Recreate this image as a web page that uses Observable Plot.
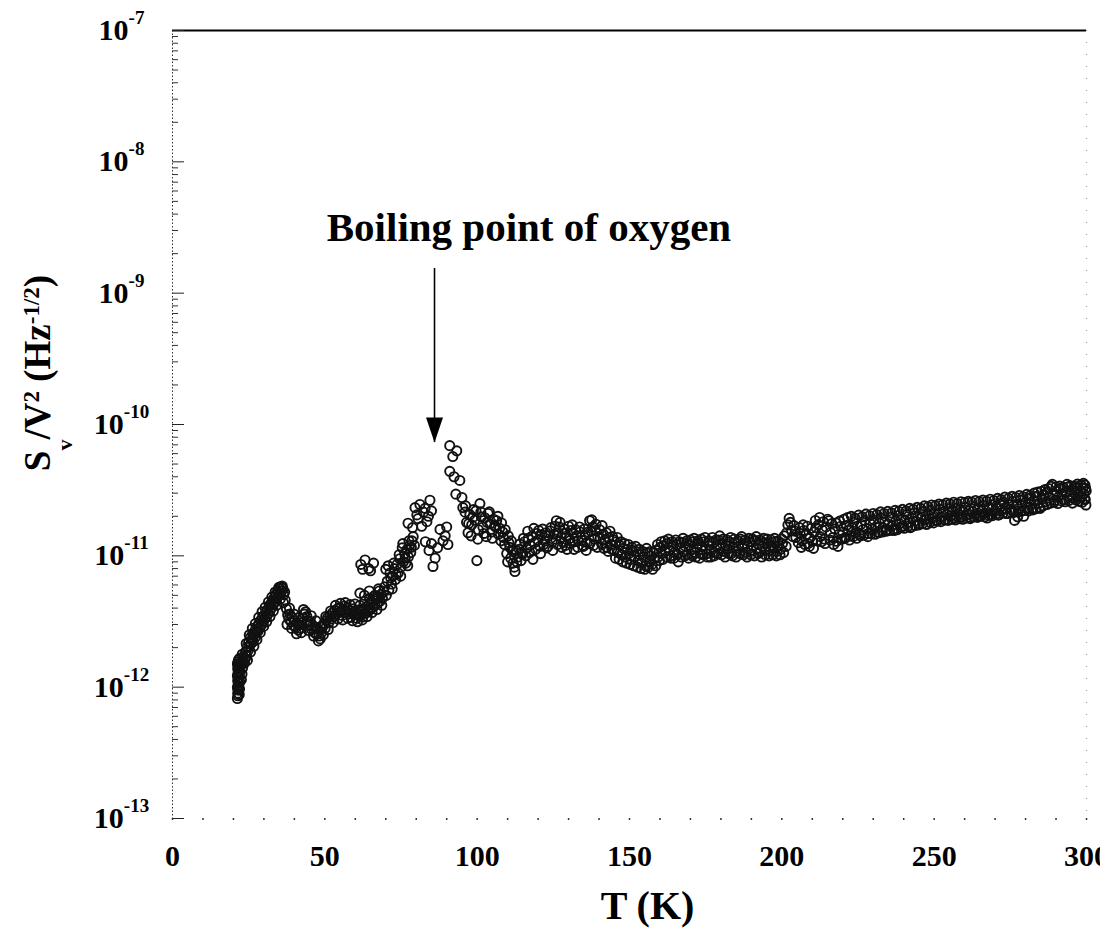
<!DOCTYPE html>
<html>
<head>
<meta charset="utf-8">
<script src="https://cdn.jsdelivr.net/npm/d3@7"></script>
<script src="https://cdn.jsdelivr.net/npm/@observablehq/plot@0.6"></script>
<style>
  body { margin: 0; background: #fff; }
  #chart svg { display: block; }
</style>
</head>
<body>
<div id="chart"></div>
<script>
// Normalised noise S_v/V^2 versus temperature T.
// Noise values are listed in units of 1e-12 Hz^-1/2; temperatures in kelvin.
const PICO = 1e-12;

// start of the sweep near 21 K
const rampStart = [
  [21.3,0.82],[21.5,0.86],[21.4,0.90],[21.6,0.95],[21.3,0.99],[21.5,1.03],[21.7,1.07],[21.4,1.12],
  [21.6,1.17],[21.3,1.22],[21.5,1.27],[21.7,1.33],[21.4,1.38],[21.6,1.44],[21.3,1.50],[21.5,1.56],
  [21.7,1.62],[21.9,0.88],[22.0,0.97],[22.1,1.09],[21.9,1.19],[22.2,1.31],[22.0,1.42],[22.3,1.53],
  [22.1,1.66],[22.6,1.14],[22.8,1.26],[23.0,1.40],[22.7,1.50],[23.1,1.58],[23.3,1.71],[22.9,1.78],
  [23.6,1.52],[23.8,1.64]
];

// steep rise up to the first maximum near 35 K
const rampRise = [
  [24.0,1.86],[24.3,1.72],[24.5,2.02],[24.8,1.90],[25.0,2.20],[25.3,2.05],[25.5,2.38],[25.8,2.15],
  [26.0,2.30],[26.3,2.55],[26.5,2.22],[26.8,2.48],[27.1,2.70],[27.3,2.42],[27.6,2.62],[27.9,2.92],
  [28.1,2.66],[28.4,3.05],[28.7,2.84],[28.9,3.22],[29.2,2.98],[29.5,3.38],[29.8,3.12],[30.0,3.50],
  [30.3,3.30],[30.6,3.70],[30.9,3.45],[31.1,3.88],[31.4,3.62],[31.7,4.10],[32.0,3.82],[32.2,4.30],
  [32.5,4.02],[32.8,4.55],[33.1,4.25],[33.4,4.80],[33.6,4.48],[33.9,5.05],[34.2,4.70],[34.5,5.35],
  [34.8,4.95],[35.0,5.62],[35.3,5.20],[35.6,5.80],[35.9,5.42],[36.2,5.65],[36.5,5.05],[36.8,5.30],
  [37.0,4.60],
  [24.2,2.15],[24.6,1.60],[25.2,2.50],[25.6,1.85],[26.2,2.80],[26.7,2.05],[27.2,3.05],[27.7,2.30],
  [28.3,3.40],[28.8,2.60],[29.4,3.75],[29.9,2.90],[30.4,4.05],[30.9,3.15],[31.5,4.45],[32.0,3.45],
  [32.6,4.85],[33.1,3.80],[33.7,5.30],[34.2,4.20],[34.9,5.75],[35.4,4.70],[36.0,5.90],[36.4,4.40]
];

// dip after 37 K and the slow climb to 70 K
const valley = [
  [37.4,3.95],[37.8,3.55],[38.2,3.30],[38.5,3.60],[38.9,3.15],[39.3,3.40],[39.7,2.95],[40.1,3.20],
  [40.5,2.85],[40.9,3.05],[41.3,2.72],[41.7,2.98],[42.1,2.80],[42.5,3.10],[42.9,3.35],[43.3,3.60],
  [43.7,3.75],[44.1,3.45],[44.5,3.20],[44.9,2.95],[45.3,3.15],[45.7,2.75],[46.1,2.95],[46.5,2.62],
  [46.9,2.85],[47.3,2.52],[47.7,2.78],[48.1,2.45],[48.5,2.33],[48.9,2.60],[49.3,2.88],[49.7,3.05],
  [50.1,2.80],[50.5,3.20],[50.9,3.38],[51.3,3.10],[51.7,3.50],[52.1,3.30],[52.5,3.68],[52.9,3.45],
  [53.3,3.85],[53.7,3.58],[54.1,3.95],[54.5,3.70],[54.9,4.05],[55.3,3.78],[55.7,3.52],[56.1,3.90],
  [56.5,4.15],[56.9,3.72],[57.3,3.98],[57.7,3.60],[58.1,3.85],[58.5,3.40],[58.9,3.68],[59.3,3.95],
  [59.7,3.55],[60.1,3.80],[60.5,3.35],[60.9,3.62],[61.3,3.88],[61.7,3.50],[62.1,3.75],[62.5,3.42],
  [62.9,3.95],[63.3,3.65],[63.7,4.10],[64.1,3.78],[64.5,4.25],[64.9,3.90],[65.3,4.40],[65.7,4.05],
  [66.1,4.55],[66.5,4.20],[66.9,4.70],[67.3,4.35],[67.7,4.90],[68.1,4.50],[68.5,5.10],[68.9,4.75],
  [69.3,5.35],
  [37.6,3.00],[38.4,4.00],[39.1,2.80],[39.9,3.60],[40.7,2.55],[41.5,3.40],[42.3,2.60],[43.0,3.90],
  [43.9,3.10],[44.7,2.70],[45.5,3.50],[46.3,2.45],[47.1,3.20],[47.9,2.25],[48.7,2.90],[49.5,2.50],
  [50.3,3.45],[51.1,2.75],[51.9,3.80],[52.7,3.10],[53.5,4.20],[54.3,3.30],[55.1,4.35],[55.9,3.25],
  [56.7,4.40],[57.5,3.35],[58.3,4.25],[59.1,3.20],[59.9,4.30],[60.7,3.15],[61.5,4.20],[62.3,3.25],
  [63.1,4.50],[63.9,3.45],[64.7,4.75],[65.5,3.70],[66.3,4.95],[67.1,3.90],[67.9,5.40],[68.7,4.20]
];

// scattered readings above the band around 60-68 K
const upperScatter = [
  [61.8,8.6],[63.2,9.3],[64.4,8.0],[65.0,7.7],[62.4,7.9],[66.0,8.8],
  [61.5,5.2],[63.0,5.0],[64.6,5.4],[66.4,5.0],[67.6,5.6]
];

// approach to and peak at the boiling point of oxygen
const nearBoiling = [
  [69.6,5.8],[70.0,7.9],[70.5,6.4],[71.0,5.5],[71.4,7.4],[71.9,6.1],[72.3,7.0],[72.8,8.0],
  [73.2,6.6],[73.7,8.6],[74.1,7.4],[74.6,9.5],[75.0,8.2],[75.4,11.5],[75.8,9.0],[76.2,10.4],
  [76.6,8.8],[77.0,11.2],[77.4,9.8],[77.8,12.0],[78.2,10.6],[78.6,13.0],
  [70.2,5.0],[70.8,8.4],[71.6,6.8],[72.1,5.6],[72.6,8.8],[73.4,7.2],[74.4,10.2],[74.9,7.0],
  [75.6,12.4],[76.4,9.6],[77.2,8.4],[77.6,13.0],[78.4,11.6],[79.0,14.0],[79.4,12.0],
  [77.3,17.7],[78.8,16.4],[79.6,23.3],[80.2,20.5],[80.6,19.2],[81.2,24.6],[81.8,16.8],[82.4,21.5],
  [82.9,23.0],[83.5,18.2],[84.0,20.0],[84.5,26.5],[85.0,22.0],
  [83.0,12.8],[84.2,11.0],[85.0,12.4],[85.5,8.3],[86.2,9.6],
  [87.0,11.5],[87.8,15.9],[88.8,13.0],[89.5,14.2],[90.0,16.6],[90.4,12.2],
  [91.0,69],[93.3,63],[92.0,57],[91.0,44],[92.4,40],[94.3,37.5],[93.0,29.5],[95.0,27.8],[95.3,23.3]
];

// decay after the peak, 96-140 K
const postPeak = [
  [96.0,21.5],[96.5,18.0],[97.0,15.0],[97.6,20.6],[98.2,17.2],[98.8,22.5],[99.2,18.7],[99.9,9.2],
  [100.4,15.8],[100.9,25.0],[101.4,19.8],[101.9,16.5],[102.5,19.5],[103.0,14.0],[103.6,21.0],[104.2,17.5],
  [104.8,15.2],[105.4,19.0],[106.0,16.6],[106.4,18.5],[107.0,14.6],[107.4,16.2],[108.0,17.8],[108.6,13.8],
  [109.2,15.8],[109.7,10.4],[110.2,14.2],[110.7,11.6],[111.2,13.0],[111.8,8.8],[112.4,7.6],[112.9,11.0],
  [113.4,9.8],[114.0,12.3],[114.6,10.6],[115.0,10.4],[115.6,12.8],[116.2,11.4],[116.8,13.6],[117.4,12.0],
  [118.0,14.1],[118.3,9.4],[118.8,12.6],[119.4,14.8],[120.0,13.2],[120.6,11.8],[121.2,14.5],[121.5,16.0],
  [122.2,13.0],[122.8,11.5],[123.4,14.2],[124.0,15.5],[124.6,12.8],[125.2,14.6],[125.8,13.4],[126.0,18.5],
  [126.6,15.0],[127.0,16.6],[127.6,13.8],[128.2,12.6],[128.8,14.9],[129.3,14.1],[129.5,11.2],[130.2,13.5],
  [130.8,15.6],[131.4,14.9],[132.0,12.8],[132.6,14.2],[133.2,13.0],[133.8,15.2],[134.3,13.1],[134.9,11.8],
  [135.5,14.4],[136.1,12.6],[136.9,18.5],[137.4,15.4],[137.9,16.6],[138.4,13.4],[139.0,17.4],[139.6,14.0],
  [96.2,24.0],[97.2,17.6],[98.0,14.2],[98.6,19.6],[99.6,22.0],[100.2,13.4],[101.2,21.6],[102.2,14.8],
  [103.2,18.0],[104.0,21.6],[105.0,13.6],[105.8,17.0],[106.8,20.0],[107.8,13.0],[108.4,15.2],[109.0,12.2],
  [110.0,9.0],[110.4,12.6],[111.0,9.6],[111.6,10.8],[112.2,8.2],[113.0,9.0],[113.8,11.2],[114.4,9.2],
  [115.2,13.6],[116.0,10.0],[116.6,15.4],[117.2,10.6],[118.6,16.2],[119.2,11.2],[120.2,15.6],[120.8,10.4],
  [121.8,12.2],[122.6,15.0],[123.2,11.8],[124.2,16.4],[124.8,11.0],[125.6,16.8],[126.4,12.2],[127.2,18.0],
  [127.8,11.6],[128.6,16.0],[129.0,12.0],[130.0,16.8],[130.6,12.4],[131.2,17.2],[131.8,11.2],[132.4,15.8],
  [133.0,11.6],[133.6,16.6],[134.6,12.0],[135.2,16.0],[135.8,11.0],[136.4,15.2],[137.0,12.4],[137.6,18.8],
  [138.2,12.0],[138.8,15.6],[139.4,11.6]
];

// near-flat region, 140-205 K
const plateau = [
  [140.2,15.8],[140.8,12.4],[141.4,14.6],[142.0,13.2],[142.6,11.6],[143.2,13.8],[143.8,12.2],[144.4,14.0],
  [145.0,11.0],[145.6,12.8],[146.2,10.6],[146.8,12.0],[147.4,10.2],[148.0,11.4],[148.6,9.8],[149.2,11.2],
  [149.8,10.4],[150.4,9.4],[151.0,11.0],[151.6,9.9],[152.2,10.8],[152.8,9.2],[153.4,10.2],[154.0,8.8],
  [154.6,9.8],[155.2,8.4],[155.8,10.5],[156.4,9.0],[157.0,10.0],[157.6,7.9],[158.2,9.5],[158.8,11.0],
  [159.4,9.8],[160.0,11.6],[160.6,10.4],[161.2,12.0],[161.8,10.8],[162.4,12.4],[163.0,11.0],[163.6,9.6],
  [164.2,11.8],[164.8,10.6],[165.4,12.2],[166.0,9.0],[166.6,11.4],[167.2,12.6],[167.8,10.8],[168.4,11.8],
  [169.0,10.2],[169.6,12.0],[170.2,11.0],[170.8,12.8],[171.4,10.6],[172.0,11.6],[172.6,12.4],[173.2,10.4],
  [173.8,11.8],[174.4,12.8],[175.0,11.2],[175.6,9.8],[176.2,12.0],[176.8,11.0],[177.4,12.6],[178.0,10.6],
  [178.6,11.8],[179.2,13.2],[179.8,11.4],[180.4,12.4],[181.0,10.8],[181.6,12.0],[182.2,11.2],[182.8,12.8],
  [183.4,10.4],[184.0,11.6],[184.6,12.6],[185.2,10.8],[185.8,11.8],[186.4,13.4],[187.0,11.6],[187.6,12.4],
  [188.2,10.6],[188.8,11.8],[189.4,12.8],[190.0,11.0],[190.6,12.0],[191.2,13.0],[191.8,11.4],[192.4,12.2],
  [193.0,10.8],[193.6,11.8],[194.2,12.6],[194.8,11.2],[195.4,12.4],[196.0,11.0],[196.6,12.0],[197.2,11.4],
  [197.8,12.8],[198.4,10.8],[199.0,12.0],[199.6,11.2],[200.2,12.4],[200.8,14.2],[201.4,11.8],[202.0,17.2],
  [202.4,19.3],[203.2,15.6],[204.0,17.0],[204.6,13.8],
  [140.4,13.6],[141.0,17.0],[141.6,11.4],[142.4,15.0],[143.0,10.8],[143.6,15.4],[144.2,11.2],[144.8,13.2],
  [145.4,9.6],[146.0,13.8],[146.6,9.4],[147.2,12.8],[147.8,9.0],[148.4,12.4],[149.0,8.8],[149.6,12.2],
  [150.2,8.6],[150.8,11.6],[151.4,8.4],[152.0,11.8],[152.6,8.2],[153.2,11.2],[153.8,8.0],[154.4,10.8],
  [155.0,7.9],[155.6,11.4],[156.2,8.2],[156.8,10.8],[157.4,8.6],[158.0,10.6],[158.6,8.4],[159.2,12.2],
  [159.8,9.2],[160.4,12.8],[161.0,9.4],[161.6,13.0],[162.2,9.8],[162.8,13.4],[163.4,10.0],[164.0,12.8],
  [164.6,9.6],[165.2,13.2],[165.8,10.2],[166.4,12.8],[167.0,9.8],[167.6,13.6],[168.2,10.0],[168.8,13.0],
  [169.4,9.6],[170.0,13.2],[170.6,10.0],[171.2,13.6],[171.8,9.8],[172.4,13.0],[173.0,9.6],[173.6,13.4],
  [174.2,10.2],[174.8,13.8],[175.4,10.4],[176.0,13.0],[176.6,9.8],[177.2,13.8],[177.8,10.0],[178.4,13.2],
  [179.0,10.4],[179.6,14.2],[180.2,10.2],[180.8,13.4],[181.4,9.8],[182.0,13.2],[182.6,10.4],[183.2,13.8],
  [183.8,10.0],[184.4,13.4],[185.0,9.8],[185.6,13.0],[186.2,10.4],[186.8,14.0],[187.4,10.2],[188.0,13.2],
  [188.6,9.8],[189.2,13.6],[189.8,10.2],[190.4,13.4],[191.0,10.0],[191.6,14.0],[192.2,10.4],[192.8,13.2],
  [193.4,9.8],[194.0,13.6],[194.6,10.2],[195.2,13.4],[195.8,10.0],[196.4,13.2],[197.0,10.2],[197.6,13.6],
  [198.2,10.0],[198.8,13.0],[199.4,10.2],[200.0,13.4],[200.6,10.6],[201.6,15.0],[202.8,18.0],[203.6,14.0],
  [204.4,15.4]
];

// gradual rise towards room temperature, 205-300 K
const warmRise = [
  [205.4,12.6],[206.0,14.8],[206.6,13.0],[207.2,15.6],[208.0,14.5],[208.6,12.4],[209.2,13.6],[210.0,12.9],
  [210.6,15.2],[211.2,16.4],[212.0,17.3],[212.6,14.0],[213.2,15.8],[214.0,13.4],[214.5,16.6],[215.5,18.5],
  [216.0,15.0],[216.8,13.8],[217.4,16.0],[218.0,12.9],[218.8,14.6],[219.4,16.8],[220.0,15.2],[220.6,13.6],
  [221.2,17.0],[221.8,15.6],[222.4,14.2],[223.0,16.4],[223.6,18.0],[224.2,15.0],[224.8,16.8],[225.4,14.6],
  [226.0,17.4],[226.6,15.8],[227.2,18.6],[227.8,16.2],[228.4,14.8],[229.0,17.6],[229.6,16.0],[230.2,18.8],
  [230.8,16.6],[231.4,15.2],[232.0,17.8],[232.6,19.4],[233.2,16.4],[233.8,18.2],[234.4,15.8],[235.0,17.4],
  [235.6,19.6],[236.2,17.0],[236.8,15.6],[237.4,18.4],[238.0,20.2],[238.6,17.6],[239.2,19.0],[239.8,16.8],
  [240.4,18.6],[241.0,20.6],[241.6,18.0],[242.2,16.4],[242.8,19.4],[243.4,21.2],[244.0,18.4],[244.6,20.0],
  [245.2,17.6],[245.8,19.8],[246.4,21.8],[247.0,19.0],[247.6,17.4],[248.2,20.4],[248.8,22.2],[249.4,19.6],
  [250.0,21.0],[250.6,18.6],[251.2,20.8],[251.8,22.6],[252.4,19.8],[253.0,21.6],[253.6,18.8],[254.2,20.6],
  [254.8,22.8],[255.4,20.2],[256.0,21.8],[256.6,19.4],[257.2,23.0],[257.8,20.8],[258.4,22.4],[259.0,19.8],
  [259.6,21.6],[260.2,23.4],[260.8,20.6],[261.4,22.0],[262.0,19.6],[262.6,21.8],[263.2,23.6],[263.8,20.8],
  [264.4,22.6],[265.0,20.0],[265.6,22.0],[266.2,24.0],[266.8,21.2],[267.4,19.4],[268.0,22.8],[268.6,20.6],
  [269.2,24.4],[269.8,21.8],[270.4,23.2],[271.0,20.4],[271.6,24.8],[272.2,22.2],[272.8,25.6],[273.4,23.0],
  [274.0,21.0],[274.6,24.6],[275.2,22.6],[275.8,26.0],[276.4,18.6],[277.0,24.2],[277.6,22.0],[278.2,26.6],
  [278.8,24.0],[279.4,20.0],[280.0,25.4],[280.6,23.2],[281.2,27.4],[281.8,24.8],[282.4,22.4],[283.0,26.2],
  [283.6,28.4],[284.2,25.0],[284.8,23.0],[285.4,27.0],[286.0,29.2],[286.6,25.8],[287.2,30.6],[287.8,27.6],
  [288.4,33.8],[289.0,28.8],[289.6,26.4],[290.2,31.0],[290.8,28.0],[291.4,32.4],[292.0,29.4],[292.6,26.8],
  [293.2,30.8],[293.8,33.4],[294.4,28.6],[295.0,31.6],[295.6,27.6],[296.2,30.0],[296.8,32.8],[297.2,29.0],
  [297.6,26.0],[298.0,31.4],[298.4,28.2],[298.8,33.0],[299.2,29.6],[299.6,26.8],[299.9,31.2],[299.5,34.5],
  [299.8,24.4],
  [205.8,16.4],[206.4,11.6],[207.0,17.2],[207.6,12.2],[208.4,16.8],[209.0,11.8],[209.6,16.2],[210.4,11.4],
  [211.0,18.6],[211.6,13.0],[212.4,19.6],[213.0,12.8],[213.6,18.2],[214.2,12.4],[215.0,19.0],[215.8,13.2],
  [216.4,17.6],[217.0,12.2],[217.8,17.8],[218.4,11.8],[219.0,18.4],[219.8,13.4],[220.4,19.0],[221.0,13.8],
  [221.6,19.6],[222.2,13.2],[222.8,20.0],[223.4,14.0],[224.0,19.4],[224.6,13.6],[225.2,20.4],[225.8,14.2],
  [226.4,19.8],[227.0,14.4],[227.6,20.8],[228.2,14.0],[228.8,20.2],[229.4,14.8],[230.0,21.0],[230.6,14.6],
  [231.2,20.6],[231.8,15.0],[232.4,21.6],[233.0,15.2],[233.6,21.0],[234.2,15.4],[234.8,21.8],[235.4,15.6],
  [236.0,21.2],[236.6,16.0],[237.2,22.2],[237.8,15.8],[238.4,21.8],[239.0,16.4],[239.6,22.6],[240.2,16.2],
  [240.8,22.0],[241.4,16.8],[242.0,23.0],[242.6,16.6],[243.2,22.6],[243.8,17.0],[244.4,23.4],[245.0,17.2],
  [245.6,23.0],[246.2,17.6],[246.8,24.0],[247.4,17.4],[248.0,23.6],[248.6,18.0],[249.2,24.4],[249.8,17.8],
  [250.4,24.0],[251.0,18.4],[251.6,24.8],[252.2,18.2],[252.8,24.4],[253.4,18.8],[254.0,25.2],[254.6,18.6],
  [255.2,24.8],[255.8,19.0],[256.4,25.6],[257.0,18.8],[257.6,25.0],[258.2,19.2],[258.8,25.8],[259.4,19.0],
  [260.0,25.4],[260.6,19.4],[261.2,26.0],[261.8,19.2],[262.4,25.6],[263.0,19.8],[263.6,26.4],[264.2,19.6],
  [264.8,25.8],[265.4,20.2],[266.0,26.6],[266.6,19.8],[267.2,26.0],[267.8,20.4],[268.4,27.0],[269.0,20.2],
  [269.6,26.4],[270.2,20.8],[270.8,27.4],[271.4,20.6],[272.0,26.8],[272.6,21.2],[273.2,28.0],[273.8,21.0],
  [274.4,27.4],[275.0,21.6],[275.6,28.4],[276.2,21.4],[276.8,27.8],[277.4,19.8],[278.0,28.8],[278.6,21.8],
  [279.2,28.2],[279.8,22.2],[280.4,29.4],[281.0,22.0],[281.6,28.8],[282.2,23.0],[282.8,30.0],[283.4,22.8],
  [284.0,30.6],[284.6,23.4],[285.2,31.0],[285.8,24.0],[286.4,32.0],[287.0,24.6],[287.6,32.6],[288.2,25.2],
  [288.8,35.0],[289.4,25.6],[290.0,33.6],[290.6,25.0],[291.2,34.0],[291.8,26.2],[292.4,33.2],[293.0,25.8],
  [293.6,35.0],[294.2,26.4],[294.8,34.2],[295.4,25.2],[296.0,33.8],[296.6,26.6],[297.0,35.2],[297.8,28.0],
  [298.2,34.6],[298.6,25.6],[299.0,35.6],[299.4,27.2],[299.7,32.6]
];

// axis ticks
const tempTicks = [0, 50, 100, 150, 200, 250, 300];
const tempMinorTicks = [0, 10, 20, 30, 40, 50, 60, 70, 80, 90, 100, 110, 120, 130, 140, 150,
  160, 170, 180, 190, 200, 210, 220, 230, 240, 250, 260, 270, 280, 290, 300];
const decadeTicks = [1e-13, 1e-12, 1e-11, 1e-10, 1e-9, 1e-8, 1e-7];
const minorDecadeTicks = decadeTicks.slice(0, -1).flatMap(d => [2, 3, 4, 5, 6, 7, 8, 9].map(m => m * d));

// annotation
const annotation = {label: "Boiling point of oxygen", T: 117, S: 2.5e-9};
const arrow = {T: 86, from: 1.54e-9, to: 7.3e-11};

// y-axis title pieces: [text, font size, baseline shift]
const yTitleParts = [["S", 37, 0], ["v", 22, 22], ["/V", 37, -22], ["2", 23, -11],
  [" (Hz", 37, 11], ["-1/2", 23, -11], [")", 37, 11]];

const points = [rampStart, rampRise, valley, upperScatter, nearBoiling, postPeak, plateau, warmRise]
  .flat()
  .map(([T, s]) => ({T, S: s * PICO}));

// filled, narrow arrowhead with its tip at the anchor point
const arrowHead = {
  draw(ctx) {
    ctx.moveTo(0, 0);
    ctx.lineTo(-8.5, -25);
    ctx.lineTo(8.5, -25);
    ctx.closePath();
  }
};

const chart = Plot.plot({
  width: 1100,
  height: 930,
  marginLeft: 172,
  marginRight: 14,
  marginTop: 30,
  marginBottom: 112,
  x: {domain: [0, 300]},
  y: {type: "log", domain: [1e-13, 1e-7]},
  style: {
    fontFamily: "'Liberation Serif', 'Times New Roman', serif",
    background: "#fff",
    color: "#000",
    overflow: "hidden"
  },
  marks: [
    Plot.ruleY([1e-7], {stroke: "#000", strokeWidth: 2.2}),
    Plot.ruleX([0], {stroke: "#333", strokeWidth: 1, strokeDasharray: "1.5,2"}),
    Plot.ruleX([300], {stroke: "#777", strokeWidth: 1.2, strokeDasharray: "1,11", strokeOpacity: 0.7}),
    Plot.axisY(decadeTicks, {tickSize: -12, fill: "none", stroke: "#222", label: null}),
    Plot.axisY(minorDecadeTicks, {tickSize: -6, fill: "none", stroke: "#333", label: null}),
    Plot.axisY(decadeTicks, {
      tickSize: 0, tickPadding: 0, dx: -51,
      tickFormat: d => `10^${Math.round(Math.log10(d))}`,
      fontSize: 30, fontWeight: "bold", fill: "#000", label: null
    }),
    Plot.axisX(tempMinorTicks, {tickSize: 2, strokeWidth: 1.5, fill: "none", stroke: "#333", label: null}),
    Plot.axisX(tempTicks, {tickSize: 0, tickPadding: 26, fontSize: 30, fontWeight: "bold", fill: "#000", label: null}),
    Plot.dot(points, {x: "T", y: "S", r: 4.6, stroke: "#111", strokeWidth: 1.9, fill: "none"}),
    Plot.ruleX([arrow], {x: "T", y1: "from", y2: "to", stroke: "#000", strokeWidth: 1.6}),
    Plot.dot([arrow], {x: "T", y: "to", symbol: arrowHead, r: 5, fill: "#000", stroke: "none"}),
    Plot.text([annotation], {
      x: "T", y: "S", text: "label", lineAnchor: "bottom",
      fontSize: 41, fontWeight: "bold", fill: "#000"
    }),
    Plot.text(["T (K)"], {
      frameAnchor: "bottom", dx: 18, dy: 100, lineAnchor: "bottom",
      fontSize: 40, fontWeight: "bold", fill: "#000"
    })
  ]
});

document.getElementById("chart").appendChild(chart);

const svg = d3.select(chart.tagName.toLowerCase() === "svg" ? chart : chart.querySelector("svg"));

// power-of-ten tick labels with raised exponents
svg.selectAll('g[aria-label="y-axis tick label"] text').each(function () {
  const m = /^10\^(.+)$/.exec(this.textContent);
  if (!m) return;
  const t = d3.select(this);
  t.text(null).attr("text-anchor", "middle");
  t.append("tspan").text("10");
  t.append("tspan").attr("dy", -16).attr("font-size", 19).text(m[1]);
});

// rotated y-axis title with subscript and superscripts
const yTitle = svg.append("text")
  .attr("transform", "translate(50,373) rotate(-90)")
  .attr("text-anchor", "middle")
  .attr("font-weight", "bold")
  .attr("fill", "#000");
for (const [txt, size, shift] of yTitleParts) {
  yTitle.append("tspan").attr("font-size", size).attr("dy", shift).text(txt);
}
</script>
</body>
</html>
